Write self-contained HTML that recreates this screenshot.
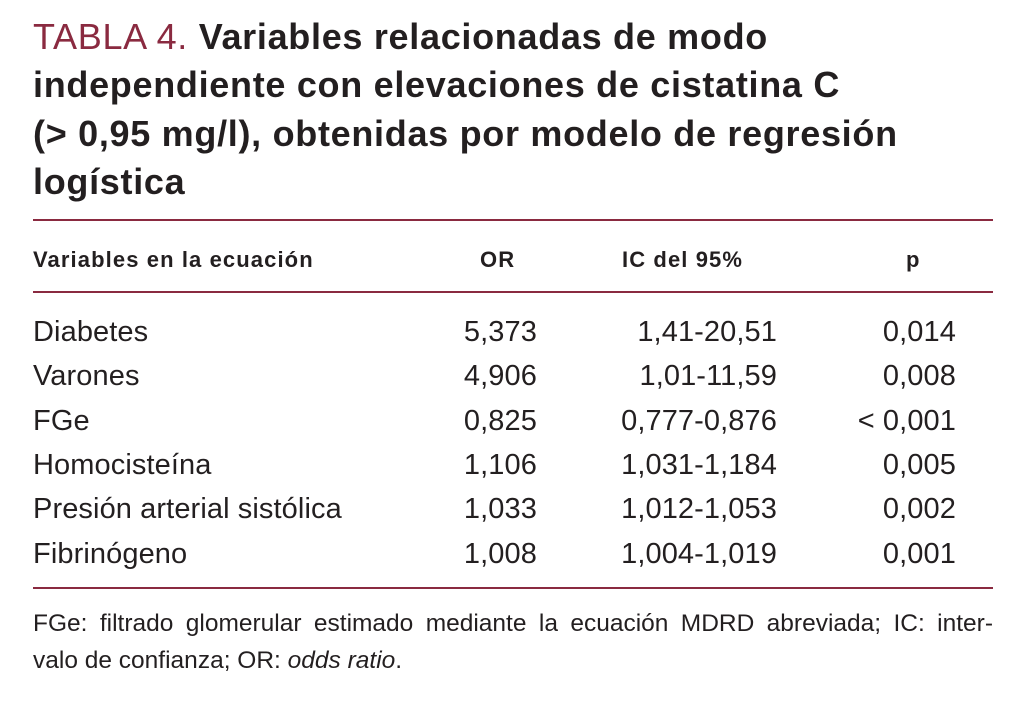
<!DOCTYPE html>
<html><head><meta charset="utf-8"><style>
body{margin:0;width:1020px;height:704px;background:#fff;position:relative;overflow:hidden;font-family:"Liberation Sans",sans-serif;color:#231f20}
.a{position:absolute;line-height:1;white-space:nowrap}
.t{font-size:36px;font-weight:bold;left:33px;letter-spacing:0.7px}
.h{font-size:22px;font-weight:bold;top:249px;letter-spacing:1.1px}
.r{font-size:29px;letter-spacing:0.1px}
.rule{position:absolute;left:33px;width:960px;height:2px;background:#8a2a40}
.f{font-size:24.5px;left:33px;width:960px;letter-spacing:0}
</style></head><body>
<div class="a t" style="top:19px"><span style="color:#8a2a40;font-weight:normal">TABLA 4.</span> Variables relacionadas de modo</div>
<div class="a t" style="top:67px">independiente con elevaciones de cistatina C</div>
<div class="a t" style="top:116px">(&gt; 0,95 mg/l), obtenidas por modelo de regresión</div>
<div class="a t" style="top:164px">logística</div>
<div class="rule" style="top:219px"></div>
<div class="a h" style="left:33px">Variables en la ecuación</div>
<div class="a h" style="left:480px">OR</div>
<div class="a h" style="left:622px">IC del 95%</div>
<div class="a h" style="left:906px">p</div>
<div class="rule" style="top:291px"></div>
<div id="rows"></div>
<div class="rule" style="top:587px"></div>
<div class="a f" style="top:612px;text-align:justify;text-align-last:justify">FGe: filtrado glomerular estimado mediante la ecuación MDRD abreviada; IC: inter-</div>
<div class="a f" style="top:649px">valo de confianza; OR: <i>odds ratio</i>.</div>
<script>
const vars=["Diabetes","Varones","FGe","Homocisteína","Presión arterial sistólica","Fibrinógeno"];
const ors=["5,373","4,906","0,825","1,106","1,033","1,008"];
const ics=["1,41-20,51","1,01-11,59","0,777-0,876","1,031-1,184","1,012-1,053","1,004-1,019"];
const ps=["0,014","0,008","< 0,001","0,005","0,002","0,001"];
const R=document.getElementById('rows');
vars.forEach((v,i)=>{
  const top=318+i*44.3;
  const mk=(txt,style,name)=>{const d=document.createElement('div');d.className='a r';d.style.cssText='top:'+top+'px;'+style;d.textContent=txt;
    
    
    R.appendChild(d);};
  mk(v,'left:33px','row-variable');
  mk(ors[i],'right:'+(1020-537)+'px','row-or');
  mk(ics[i],'right:'+(1020-777)+'px','row-ic');
  mk(ps[i],'right:'+(1020-956)+'px','row-p');
});
</script>
</body></html>
